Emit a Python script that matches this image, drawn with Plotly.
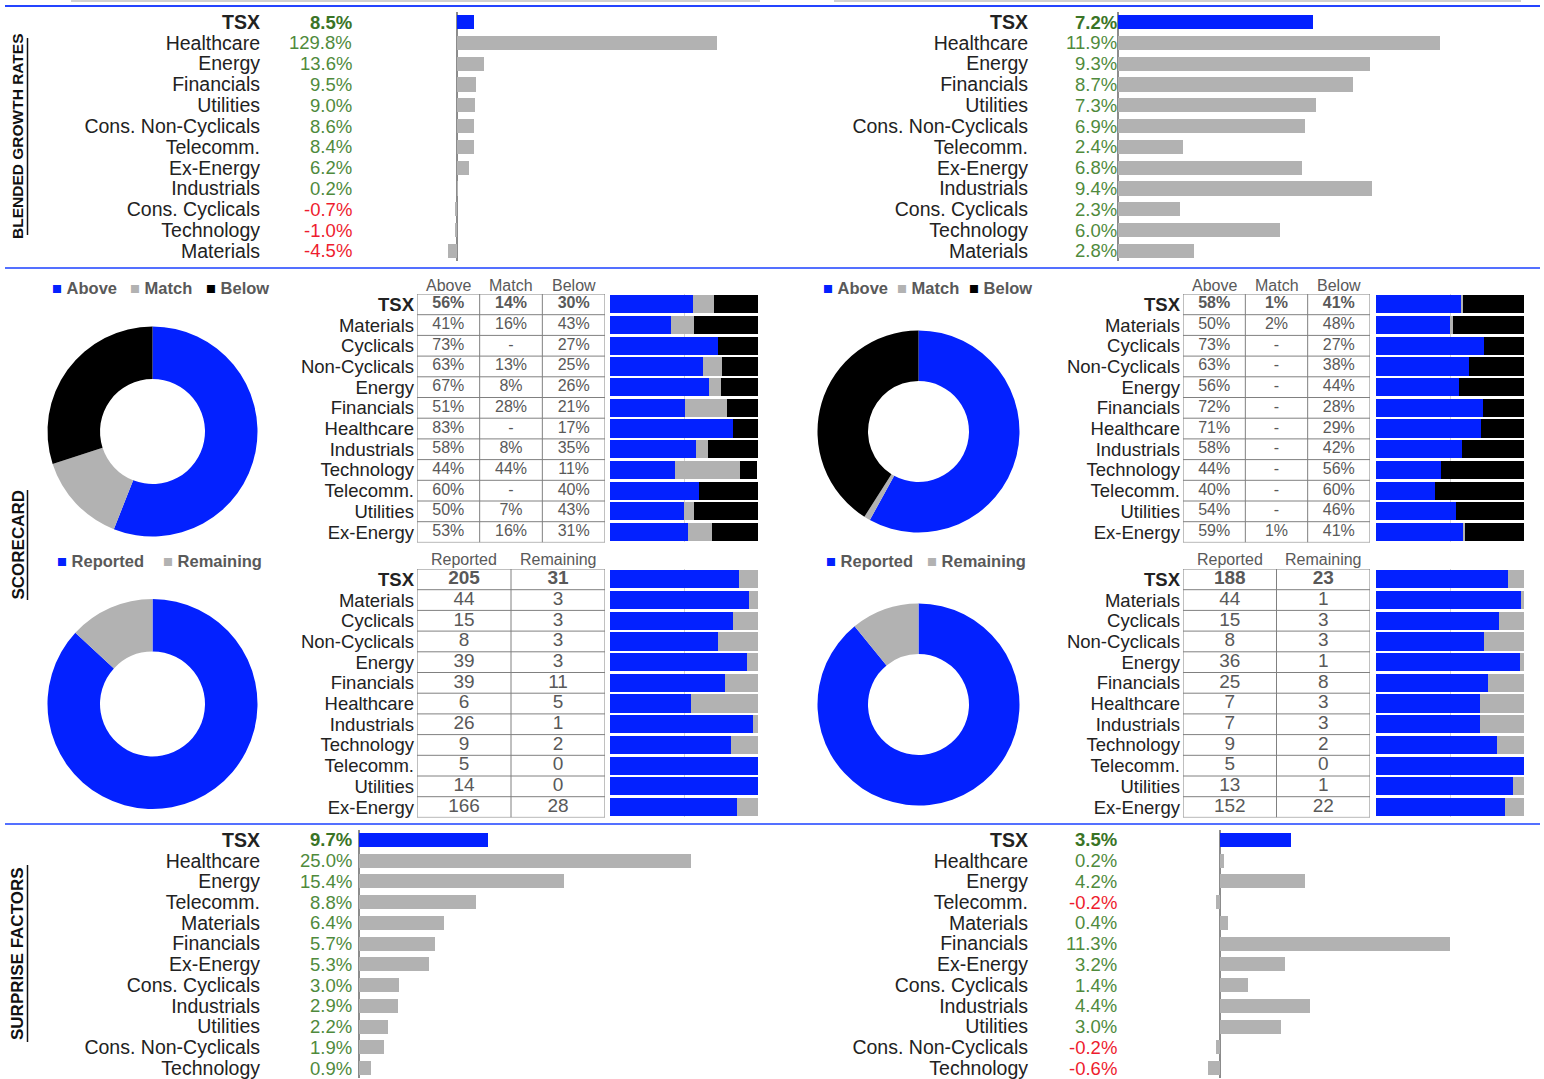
import plotly.graph_objects as go

W, H = 1544, 1079


def px(x):
    return x / W


def py(y):
    return 1 - y / H


BLUE = "#0321ff"
GRAY = "#b2b2b2"
BLACK = "#000000"
GREEN = "#4f8a3c"
GREEN_D = "#3a7426"
RED = "#ee1c2e"
TXT = "#222222"
TBL = "#595959"
ZERO = "#8c8c8c"
BORDER = "#808080"
FONT = "Liberation Sans, Arial, sans-serif"

# ---------------- DATA ----------------
growth_cats = ["TSX", "Healthcare", "Energy", "Financials", "Utilities", "Cons. Non-Cyclicals",
               "Telecomm.", "Ex-Energy", "Industrials", "Cons. Cyclicals", "Technology", "Materials"]
growth_left = [8.5, 129.8, 13.6, 9.5, 9.0, 8.6, 8.4, 6.2, 0.2, -0.7, -1.0, -4.5]
growth_right = [7.2, 11.9, 9.3, 8.7, 7.3, 6.9, 2.4, 6.8, 9.4, 2.3, 6.0, 2.8]

score_cats = ["TSX", "Materials", "Cyclicals", "Non-Cyclicals", "Energy", "Financials",
              "Healthcare", "Industrials", "Technology", "Telecomm.", "Utilities", "Ex-Energy"]
score_headers = ["Above", "Match", "Below"]
above_left = [56, 41, 73, 63, 67, 51, 83, 58, 44, 60, 50, 53]
match_left = [14, 16, 0, 13, 8, 28, 0, 8, 44, 0, 7, 16]
below_left = [30, 43, 27, 25, 26, 21, 17, 35, 11, 40, 43, 31]
above_right = [58, 50, 73, 63, 56, 72, 71, 58, 44, 40, 54, 59]
match_right = [1, 2, 0, 0, 0, 0, 0, 0, 0, 0, 0, 1]
below_right = [41, 48, 27, 38, 44, 28, 29, 42, 56, 60, 46, 41]

report_headers = ["Reported", "Remaining"]
reported_left = [205, 44, 15, 8, 39, 39, 6, 26, 9, 5, 14, 166]
remaining_left = [31, 3, 3, 3, 3, 11, 5, 1, 2, 0, 0, 28]
reported_right = [188, 44, 15, 8, 36, 25, 7, 7, 9, 5, 13, 152]
remaining_right = [23, 1, 3, 3, 1, 8, 3, 3, 2, 0, 1, 22]

surprise_cats = ["TSX", "Healthcare", "Energy", "Telecomm.", "Materials", "Financials",
                 "Ex-Energy", "Cons. Cyclicals", "Industrials", "Utilities",
                 "Cons. Non-Cyclicals", "Technology"]
surprise_left = [9.7, 25.0, 15.4, 8.8, 6.4, 5.7, 5.3, 3.0, 2.9, 2.2, 1.9, 0.9]
surprise_right = [3.5, 0.2, 4.2, -0.2, 0.4, 11.3, 3.2, 1.4, 4.4, 3.0, -0.2, -0.6]

# ---------------- FIGURE ----------------
fig = go.Figure()
layout = {}
annotations = []
shapes = []


def axn(p, n):
    return p if n == 1 else f"{p}{n}"


def lay(p, n):
    return f"{p}axis" if n == 1 else f"{p}axis{n}"


def hbar_panel(n, cats, vals, x_left, x_right, x_zero, ppu, y_top, y_bot, label_x, value_x):
    nrow = len(vals)
    idx = list(range(nrow))
    colors = [BLUE] + [GRAY] * (nrow - 1)
    fig.add_trace(go.Bar(x=vals, y=idx, orientation="h", width=0.68,
                         marker=dict(color=colors, line=dict(width=0)),
                         xaxis=axn("x", n), yaxis=axn("y", n),
                         showlegend=False, hoverinfo="skip"))
    layout[lay("x", n)] = dict(domain=[px(x_left), px(x_right)],
                               range=[(x_left - x_zero) / ppu, (x_right - x_zero) / ppu],
                               anchor=axn("y", n), showgrid=False, showticklabels=False,
                               ticks="", zeroline=True, zerolinecolor=ZERO, zerolinewidth=1.5,
                               showline=False, fixedrange=True)
    layout[lay("y", n)] = dict(domain=[py(y_bot), py(y_top)], range=[nrow - 0.5, -0.5],
                               anchor="free", position=px(label_x), tickmode="array",
                               tickvals=idx,
                               ticktext=[f"<b>{c}</b>" if i == 0 else c for i, c in enumerate(cats)],
                               tickfont=dict(size=19.5, color=TXT, family=FONT),
                               showgrid=False, zeroline=False, showline=False, ticks="",
                               fixedrange=True)
    for i, v in enumerate(vals):
        col = RED if v < 0 else (GREEN_D if i == 0 else GREEN)
        t = f"{v:.1f}%"
        if i == 0:
            t = f"<b>{t}</b>"
        annotations.append(dict(xref="paper", yref=axn("y", n), x=px(value_x), y=i,
                                xanchor="right", yanchor="middle", text=t, showarrow=False,
                                font=dict(size=18.5, color=col, family=FONT)))


def score_panel(nb, nt, cats, series, colors, bar_l, bar_r, tab_l, tab_r, y_top, y_bot,
                head_top, headers, col_texts, cell_size, head_size, label_x):
    nrow = len(cats)
    idx = list(range(nrow))
    for vals, c in zip(series, colors):
        fig.add_trace(go.Bar(x=vals, y=idx, orientation="h", width=0.88,
                             marker=dict(color=c, line=dict(width=0)),
                             xaxis=axn("x", nb), yaxis=axn("y", nb),
                             showlegend=False, hoverinfo="skip"))
    layout[lay("x", nb)] = dict(domain=[px(bar_l), px(bar_r)], range=[0, 100],
                                anchor=axn("y", nb), showticklabels=False, ticks="",
                                showgrid=True, tickvals=[0, 50], gridcolor="#d4d4d4",
                                gridwidth=1, zeroline=False, showline=False, fixedrange=True)
    layout[lay("y", nb)] = dict(domain=[py(y_bot), py(y_top)], range=[nrow - 0.5, -0.5],
                                anchor="free", position=px(label_x), tickmode="array",
                                tickvals=idx,
                                ticktext=[f"<b>{c}</b>" if i == 0 else c for i, c in enumerate(cats)],
                                tickfont=dict(size=18.5, color=TXT, family=FONT),
                                showgrid=False, zeroline=False, showline=False, ticks="",
                                fixedrange=True)
    ncol = len(headers)
    layout[lay("x", nt)] = dict(domain=[px(tab_l), px(tab_r)], range=[-0.5, ncol - 0.5],
                                anchor=axn("y", nb), visible=False, fixedrange=True)
    for k, texts in enumerate(col_texts):
        fig.add_trace(go.Scatter(x=[k] * nrow, y=idx, mode="text",
                                 text=[f"<b>{t}</b>" if i == 0 else t for i, t in enumerate(texts)],
                                 textposition="middle center",
                                 textfont=dict(size=cell_size, color=TBL, family=FONT),
                                 xaxis=axn("x", nt), yaxis=axn("y", nb), cliponaxis=False,
                                 showlegend=False, hoverinfo="skip"))
        annotations.append(dict(xref=axn("x", nt), yref="paper", x=k,
                                y=py((head_top + y_top) / 2), xanchor="center",
                                yanchor="middle", text=headers[k], showarrow=False,
                                font=dict(size=head_size, color=TBL, family=FONT)))
    rowh = (y_bot - y_top) / nrow
    hdr = -0.5 - (y_top - head_top) / rowh
    xr, yr = axn("x", nt), axn("y", nb)
    for k in range(ncol + 1):
        shapes.append(dict(type="line", xref=xr, yref=yr, x0=-0.5 + k, x1=-0.5 + k,
                           y0=hdr, y1=nrow - 0.5, line=dict(color=BORDER, width=1)))
    for yy in [hdr] + [-0.5 + r for r in range(nrow + 1)]:
        shapes.append(dict(type="line", xref=xr, yref=yr, x0=-0.5, x1=ncol - 0.5,
                           y0=yy, y1=yy, line=dict(color=BORDER, width=1)))


def donut(labels, vals, colors, cx, cy, r):
    fig.add_trace(go.Pie(labels=labels, values=vals, hole=0.5, sort=False,
                         direction="clockwise", rotation=0, textinfo="none",
                         hoverinfo="skip", showlegend=False,
                         marker=dict(colors=colors, line=dict(width=0)),
                         domain=dict(x=[px(cx - r), px(cx + r)], y=[py(cy + r), py(cy - r)])))


def legend_item(x, y, color, label):
    annotations.append(dict(xref="paper", yref="paper", x=px(x), y=py(y), xanchor="left",
                            yanchor="middle", showarrow=False,
                            text=f"<span style='color:{color}'>■</span> <b>{label}</b>",
                            font=dict(size=16.5, color=TBL, family=FONT)))


def pct(v):
    return "-" if v == 0 else f"{v}%"


# Blended growth rates
hbar_panel(1, growth_cats, growth_left, 445, 765, 457, 2.0, 11.6, 261.4, 260, 354)
hbar_panel(2, growth_cats, growth_right, 1116, 1535, 1118, 27.06, 11.6, 261.4, 1028, 1119)
# Surprise factors
hbar_panel(3, surprise_cats, surprise_left, 352, 765, 359, 13.28, 829.6, 1078.4, 260, 354)
hbar_panel(4, surprise_cats, surprise_right, 1195, 1535, 1220, 20.35, 829.6, 1078.4, 1028, 1119)

# Scorecard: above / match / below
score_panel(5, 6, score_cats, [above_left, match_left, below_left], [BLUE, GRAY, BLACK],
            610, 758, 417, 605, 294, 542.4, 276, score_headers,
            [[pct(v) for v in above_left], [pct(v) for v in match_left],
             [pct(v) for v in below_left]], 16, 16, 414)
score_panel(7, 8, score_cats, [above_right, match_right, below_right], [BLUE, GRAY, BLACK],
            1376, 1524, 1183, 1370, 294, 542.4, 276, score_headers,
            [[pct(v) for v in above_right], [pct(v) for v in match_right],
             [pct(v) for v in below_right]], 16, 16, 1180)

# Scorecard: reported / remaining
rep_share_l = [a / (a + b) * 100 for a, b in zip(reported_left, remaining_left)]
rem_share_l = [b / (a + b) * 100 for a, b in zip(reported_left, remaining_left)]
rep_share_r = [a / (a + b) * 100 for a, b in zip(reported_right, remaining_right)]
rem_share_r = [b / (a + b) * 100 for a, b in zip(reported_right, remaining_right)]
score_panel(9, 10, score_cats, [rep_share_l, rem_share_l], [BLUE, GRAY],
            610, 758, 417, 605, 569, 817.4, 549, report_headers,
            [[str(v) for v in reported_left], [str(v) for v in remaining_left]], 19, 16, 414)
score_panel(11, 12, score_cats, [rep_share_r, rem_share_r], [BLUE, GRAY],
            1376, 1524, 1183, 1370, 569, 817.4, 549, report_headers,
            [[str(v) for v in reported_right], [str(v) for v in remaining_right]], 19, 16, 1180)

# Donuts (TSX totals)
donut(score_headers, [above_left[0], match_left[0], below_left[0]], [BLUE, GRAY, BLACK], 152.5, 431.5, 105)
donut(score_headers, [above_right[0], match_right[0], below_right[0]], [BLUE, GRAY, BLACK], 918.5, 431.5, 101)
donut(report_headers, [reported_left[0], remaining_left[0]], [BLUE, GRAY], 152.5, 704, 105)
donut(report_headers, [reported_right[0], remaining_right[0]], [BLUE, GRAY], 918.5, 704.5, 101)

# Legends
legend_item(50, 288, BLUE, "Above")
legend_item(128, 288, GRAY, "Match")
legend_item(204, 288, BLACK, "Below")
legend_item(821, 288, BLUE, "Above")
legend_item(895, 288, GRAY, "Match")
legend_item(967, 288, BLACK, "Below")
legend_item(55, 561, BLUE, "Reported")
legend_item(161, 561, GRAY, "Remaining")
legend_item(824, 561, BLUE, "Reported")
legend_item(925, 561, GRAY, "Remaining")

# Section titles (vertical, underlined)
for text, yc, size, y0, y1 in [("BLENDED GROWTH RATES", 136.5, 15.5, 38, 235),
                               ("SCORECARD", 545, 17, 490, 600),
                               ("SURPRISE FACTORS", 953.5, 17, 865, 1042)]:
    annotations.append(dict(xref="paper", yref="paper", x=px(17.5), y=py(yc), xanchor="center",
                            yanchor="middle", textangle=-90, showarrow=False,
                            text=f"<b>{text}</b>", font=dict(size=size, color="#111111", family=FONT)))
    shapes.append(dict(type="line", xref="paper", yref="paper", x0=px(27.5), x1=px(27.5),
                       y0=py(y0), y1=py(y1), line=dict(color="#111111", width=1.5)))

# Separators
shapes.append(dict(type="line", xref="paper", yref="paper", x0=px(71), x1=px(760), y0=py(1), y1=py(1),
                   line=dict(color="#c0c0c0", width=1.5)))
shapes.append(dict(type="line", xref="paper", yref="paper", x0=px(834), x1=px(1521), y0=py(1), y1=py(1),
                   line=dict(color="#c0c0c0", width=1.5)))
for yy, col in [(6, "#2444ff"), (268, "#5470ff"), (824, "#5470ff")]:
    shapes.append(dict(type="line", xref="paper", yref="paper", x0=px(5), x1=px(1540), y0=py(yy), y1=py(yy),
                       line=dict(color=col, width=1.8)))

fig.update_layout(width=W, height=H, margin=dict(l=0, r=0, t=0, b=0),
                  paper_bgcolor="white", plot_bgcolor="rgba(0,0,0,0)",
                  barmode="stack", font=dict(family=FONT, color=TXT),
                  annotations=annotations, shapes=shapes, **layout)

fig.write_html("out.html", config={"displayModeBar": False},
               post_script="document.body.style.margin='0px';document.body.style.overflow='hidden';")
